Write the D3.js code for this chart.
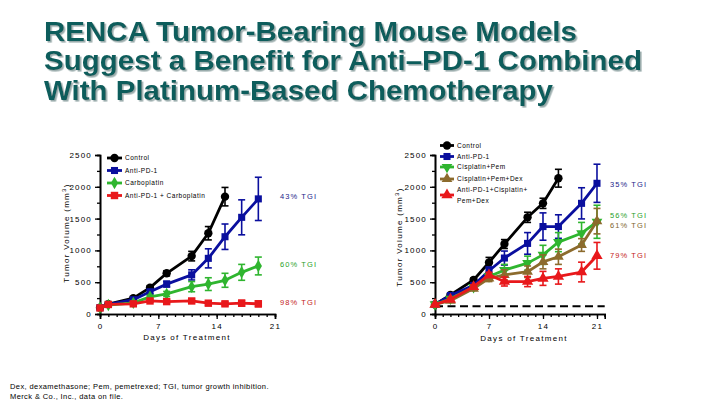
<!DOCTYPE html>
<html><head><meta charset="utf-8">
<script src="https://cdn.jsdelivr.net/npm/d3@7"></script>
<style>
html,body{margin:0;padding:0;background:#fff;}
svg{display:block;font-family:"Liberation Sans",Arial,sans-serif;}
</style></head>
<body><svg id="c" width="720" height="405"></svg>
<script>
// ---------- DATA ----------
const titleLines = ["RENCA Tumor-Bearing Mouse Models","Suggest a Benefit for Anti\u2013PD-1 Combined","With Platinum-Based Chemotherapy"];

const leftDays = [0,1,4,6,8,11,13,15,17,19];
const leftControl = [100,155,250,415,640,910,1270,1845];
const leftControlErr = [0,10,20,30,40,75,105,145];
const leftAntiPD1 = [100,150,225,350,470,615,875,1215,1520,1810];
const leftAntiPD1Err = [0,10,15,30,45,80,150,200,275,340];
const leftCarbo = [100,140,175,270,315,430,470,530,655,755];
const leftCarboErr = [0,10,15,25,40,80,100,110,125,140];
const leftCombo = [95,150,160,205,195,205,170,160,170,160];
const leftComboErr = [0,10,15,20,25,30,30,30,45,45];
const leftNames = ["Control","Anti-PD-1","Carboplatin","Anti-PD-1 + Carboplatin"];
const leftTGI = [{t:"43% TGI",c:"blue"},{t:"60% TGI",c:"green"},{t:"98% TGI",c:"red"}];

const rightDays = [0,2,5,7,9,12,14,16,19,21];
const rightControl = [150,300,535,810,1100,1520,1740,2135];
const rightControlErr = [0,20,30,80,70,80,80,140];
const rightAntiPD1 = [150,290,450,680,880,1110,1375,1375,1740,2055];
const rightAntiPD1Err = [0,20,40,60,110,170,215,185,245,300];
const rightCisPem = [150,240,420,590,690,800,930,1130,1270,1450];
const rightCisPemErr = [0,20,30,50,90,110,150,150,170,260];
const rightCisPemDex = [150,210,400,560,615,665,820,900,1085,1460];
const rightCisPemDexErr = [0,20,30,50,80,90,110,120,100,200];
const rightCombo = [150,230,430,615,510,510,560,590,660,915];
const rightComboErr = [0,20,30,40,70,80,110,120,155,210];
const rightNames = ["Control","Anti-PD-1","Cisplatin+Pem","Cisplatin+Pem+Dex",["Anti-PD-1+Cisplatin+","Pem+Dex"]];
const rightTGI = [{t:"35% TGI",c:"blue"},{t:"56% TGI",c:"green"},{t:"61% TGI",c:"brown"},{t:"79% TGI",c:"red"}];
const baselineValue = 120;

const yTicks = [0,500,1000,1500,2000,2500];
const xTickLabels = [0,7,14,21];
const footnotes = ["Dex, dexamethasone; Pem, pemetrexed; TGI, tumor growth inhibition.","Merck & Co., Inc., data on file."];

// ---------- STYLE ----------
const col = {black:"#000000", blue:"#0a0f9e", green:"#2fb52f", red:"#e8181b", brown:"#8c6b2d"};
const txtCol = {blue:"#1c1c8a", green:"#2a9f2a", red:"#c42222", brown:"#80662e"};

const svg = d3.select("#c");
const defs = svg.append("defs");
const f = defs.append("filter").attr("id","sh").attr("x","-5%").attr("y","-20%").attr("width","110%").attr("height","150%");
f.append("feDropShadow").attr("dx",1.6).attr("dy",1.6).attr("stdDeviation",0.6).attr("flood-color","#8fa3a3").attr("flood-opacity",0.9);

// Title
const tg = svg.append("g").attr("filter","url(#sh)");
const titleWidths = [533,598,509];
titleLines.forEach((l,i)=>{
  tg.append("text").attr("x",44).attr("y",41+i*29.3).text(l)
    .attr("font-size",28).attr("font-weight","bold").attr("fill","#0d5d5b")
    .attr("textLength",titleWidths[i]).attr("lengthAdjust","spacingAndGlyphs");
});

function sym(type,size){
  const map={circle:d3.symbolCircle,square:d3.symbolSquare,tri:d3.symbolTriangle,diamond:d3.symbolDiamond,star:d3.symbolStar};
  return d3.symbol().type(map[type]).size(size)();
}

function panel(o){
  const g = svg.append("g");
  const x = d3.scaleLinear().domain(o.xDomain).range(o.xRange);
  const y = d3.scaleLinear().domain([0,2500]).range([314,155]);
  const fs = "8px";
  // axes
  const xAxis = d3.axisBottom(x).tickValues(d3.range(o.xDomain[0],o.xDomain[1]+1)).tickSize(3).tickFormat("");
  g.append("g").attr("transform","translate(0,314)").call(xAxis);
  const xMaj = d3.axisBottom(x).tickValues(xTickLabels).tickSize(5).tickPadding(4).tickFormat(d3.format("d"));
  g.append("g").attr("transform","translate(0,314)").call(xMaj);
  const yMin = d3.axisLeft(y).tickValues(d3.range(0,2501,250)).tickSize(3).tickFormat("");
  g.append("g").attr("transform",`translate(${o.xRange[0]},0)`).call(yMin);
  const yMaj = d3.axisLeft(y).tickValues(yTicks).tickSize(5).tickPadding(3).tickFormat(d3.format("d"));
  g.append("g").attr("transform",`translate(${o.xRange[0]},0)`).call(yMaj);
  g.selectAll(".domain").attr("stroke","#000").attr("stroke-width",1.6);
  g.selectAll(".tick line").attr("stroke","#000").attr("stroke-width",1.3);
  g.selectAll(".tick text").attr("font-size",fs).attr("letter-spacing","1.2px").attr("fill","#000")
    .attr("font-family","'Liberation Sans',Arial,sans-serif");
  // axis titles
  g.append("text").attr("x",o.xLabelX).attr("y",o.xLabelY).attr("text-anchor","middle")
    .attr("font-size",fs).attr("letter-spacing","1.3px").text("Days of Treatment");
  const yl = g.append("text").attr("transform",`translate(${o.yLabelX},${o.yLabelY}) rotate(-90)`)
    .attr("text-anchor","middle").attr("font-size",fs).attr("letter-spacing","1.3px");
  yl.append("tspan").text("Tumor Volume (mm");
  yl.append("tspan").attr("dy",-3).attr("font-size","6px").text("3");
  yl.append("tspan").attr("dy",3).text(")");

  if (o.baseline!=null){
    g.append("line").attr("x1",x(0)).attr("x2",x(o.xDomain[1])).attr("y1",y(o.baseline)).attr("y2",y(o.baseline))
      .attr("stroke","#000").attr("stroke-width",2).attr("stroke-dasharray","8,4.5");
  }

  // series
  o.series.forEach(s=>{
    const pts = s.vals.map((v,i)=>({d:o.days[i],v,e:s.err[i]}));
    const sg = g.append("g");
    pts.forEach(p=>{
      if(p.e<=0) return;
      const cx=x(p.d);
      sg.append("line").attr("x1",cx).attr("x2",cx).attr("y1",y(p.v-p.e)).attr("y2",y(p.v+p.e)).attr("stroke",s.color).attr("stroke-width",1.6);
      [p.v-p.e,p.v+p.e].forEach(vv=>sg.append("line").attr("x1",cx-3.5).attr("x2",cx+3.5).attr("y1",y(vv)).attr("y2",y(vv)).attr("stroke",s.color).attr("stroke-width",1.6));
    });
    sg.append("path").datum(pts).attr("fill","none").attr("stroke",s.color).attr("stroke-width",2.8)
      .attr("stroke-linejoin","round")
      .attr("d",d3.line().x(p=>x(p.d)).y(p=>y(p.v)));
    sg.selectAll("path.m").data(pts).join("path").attr("class","m")
      .attr("transform",p=>`translate(${x(p.d)},${y(p.v)}) rotate(${s.rot||0})`)
      .attr("d",sym(s.shape,s.size||48)).attr("fill",s.color);
  });

  // legend
  o.series.forEach((s,i)=>{
    const ly = o.legendY[i];
    const lg = g.append("g");
    lg.append("line").attr("x1",o.legendX).attr("x2",o.legendX+o.legendW).attr("y1",ly).attr("y2",ly).attr("stroke",s.color).attr("stroke-width",2.8);
    lg.append("path").attr("transform",`translate(${o.legendX+o.legendW/2},${ly}) rotate(${s.rot||0})`).attr("d",sym(s.shape,s.size||48)).attr("fill",s.color);
    const nm = o.names[i];
    const lines = Array.isArray(nm)?nm:[nm];
    lines.forEach((t,j)=>{
      lg.append("text").attr("x",o.legendX+o.legendW+3).attr("y",ly+2.3+j*11 - (lines.length>1?5:0))
        .attr("font-size","6.5px").attr("letter-spacing","0.5px").attr("fill","#000").text(t);
    });
  });

  // TGI labels
  o.tgi.forEach((t,i)=>{
    g.append("text").attr("x",o.tgiX).attr("y",o.tgiY[i]).attr("font-size","7.5px").attr("letter-spacing","1.1px")
      .attr("fill",txtCol[t.c]).text(t.t);
  });
}

panel({
  xDomain:[0,21], xRange:[100,275], days:leftDays,
  xLabelX:187, xLabelY:340, yLabelX:69, yLabelY:233,
  series:[
    {vals:leftControl,err:leftControlErr,color:col.black,shape:"circle",size:55},
    {vals:leftAntiPD1,err:leftAntiPD1Err,color:col.blue,shape:"square",size:50},
    {vals:leftCarbo,err:leftCarboErr,color:col.green,shape:"diamond",size:45},
    {vals:leftCombo,err:leftComboErr,color:col.red,shape:"square",size:55}
  ],
  names:leftNames, legendX:107, legendW:15, legendY:[158,170.5,183,195.5],
  tgi:leftTGI, tgiX:280, tgiY:[199,267,305]
});

panel({
  xDomain:[0,22], xRange:[435,604.7], days:rightDays,
  xLabelX:524, xLabelY:341, yLabelX:402, yLabelY:237, baseline:baselineValue,
  series:[
    {vals:rightControl,err:rightControlErr,color:col.black,shape:"circle",size:55},
    {vals:rightAntiPD1,err:rightAntiPD1Err,color:col.blue,shape:"square",size:50},
    {vals:rightCisPem,err:rightCisPemErr,color:col.green,shape:"tri",size:50,rot:180},
    {vals:rightCisPemDex,err:rightCisPemDexErr,color:col.brown,shape:"tri",size:50},
    {vals:rightCombo,err:rightComboErr,color:col.red,shape:"tri",size:55}
  ],
  names:rightNames, legendX:440, legendW:14, legendY:[145.5,156.5,167,179,195],
  tgi:rightTGI, tgiX:610, tgiY:[187,218,228,258]
});

// footnotes
footnotes.forEach((f,i)=>{
  svg.append("text").attr("x",10).attr("y",389+i*10).attr("font-size","7.5px").attr("letter-spacing","0.4px")
    .attr("fill","#000").text(f);
});
</script></body></html>
